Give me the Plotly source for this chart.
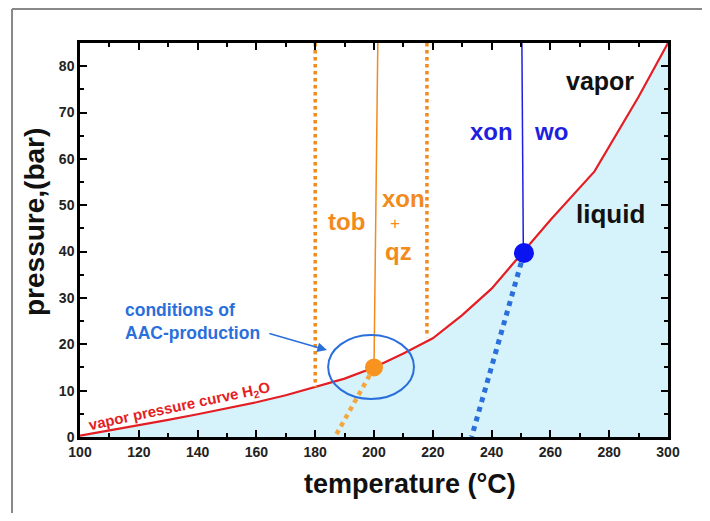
import plotly.graph_objects as go

# vapor pressure curve of H2O
curve_T = [100, 110, 120, 130, 140, 150, 160, 170, 180, 190, 200, 210, 220, 230, 240, 250, 260, 275, 290, 300]
curve_p = [0.3, 1.4, 2.5, 3.7, 4.9, 6.2, 7.5, 9.0, 10.8, 12.6, 15.0, 18.0, 21.3, 26.3, 32.0, 39.3, 46.8, 57.3, 73.4, 85.0]

# orange (tobermorite / xonotlite+quartz) construction lines
tob_bound_T = [180, 218]
tob_bound_pbot = [10.8, 21.5]
orange_line_T = [201.3, 200.0]
orange_line_p = [85, 15.0]
orange_point = (200.0, 15.0)
orange_dot_T = [200.0, 186.7]
orange_dot_p = [15.0, 0.0]

# blue (xonotlite / wollastonite) construction lines
blue_line_T = [250.3, 250.8]
blue_line_p = [85, 39.7]
blue_point = (251.0, 39.7)
blue_dot_T = [251.0, 233.2]
blue_dot_p = [39.7, 0.0]

# ellipse (conditions of AAC production)
ell_T = [184.4, 213.6]
ell_p = [8.2, 22.0]

x_ticks = [100, 120, 140, 160, 180, 200, 220, 240, 260, 280, 300]
y_ticks = [0, 10, 20, 30, 40, 50, 60, 70, 80]

FONT = "Liberation Sans, Arial, sans-serif"
ORANGE = "#f28a1c"
RED = "#e31e24"
BLUE = "#1f1fe0"
MBLUE = "#2a6fdb"

fig = go.Figure()

fig.add_trace(go.Scatter(x=curve_T, y=curve_p, mode="lines", fill="tozeroy",
                         fillcolor="#d6f3fb", line=dict(color=RED, width=2.2),
                         hoverinfo="skip", showlegend=False))

for T, pb in zip(tob_bound_T, tob_bound_pbot):
    fig.add_trace(go.Scatter(x=[T, T], y=[85, pb], mode="lines",
                             line=dict(color=ORANGE, width=3.5, dash="dot"),
                             showlegend=False))

fig.add_trace(go.Scatter(x=orange_dot_T, y=orange_dot_p, mode="lines",
                         line=dict(color="#f4a640", width=4.5, dash="dot"), showlegend=False))
fig.add_trace(go.Scatter(x=orange_line_T, y=orange_line_p, mode="lines",
                         line=dict(color=ORANGE, width=1.5), showlegend=False))
fig.add_trace(go.Scatter(x=blue_dot_T, y=blue_dot_p, mode="lines",
                         line=dict(color=MBLUE, width=5, dash="dot"), showlegend=False))
fig.add_trace(go.Scatter(x=blue_line_T, y=blue_line_p, mode="lines",
                         line=dict(color=BLUE, width=1.5), showlegend=False))
fig.add_trace(go.Scatter(x=[orange_point[0]], y=[orange_point[1]], mode="markers",
                         marker=dict(color="#f7931e", size=18), showlegend=False))
fig.add_trace(go.Scatter(x=[blue_point[0]], y=[blue_point[1]], mode="markers",
                         marker=dict(color="#0a14f0", size=20), showlegend=False))

fig.add_shape(type="circle", xref="x", yref="y", x0=ell_T[0], x1=ell_T[1],
              y0=ell_p[0], y1=ell_p[1], line=dict(color=MBLUE, width=2))

# outer frame (top and left edges visible in the picture)
fig.add_shape(type="line", xref="paper", yref="paper", x0=-0.1156, x1=1.2,
              y0=1.0863, y1=1.0863, line=dict(color="#888888", width=2), layer="above")
fig.add_shape(type="line", xref="paper", yref="paper", x0=-0.1156, x1=-0.1156,
              y0=1.0863, y1=-0.4, line=dict(color="#888888", width=2), layer="above")

def txt(x, y, s, color, size, bold=True, **kw):
    fig.add_annotation(x=x, y=y, xref="x", yref="y", text=("<b>%s</b>" % s) if bold else s,
                       showarrow=False, font=dict(family=FONT, size=size, color=color), **kw)

txt(276.9, 76.9, "vapor", "#111111", 25)
txt(280.6, 48.1, "liquid", "#111111", 26)
txt(240.1, 65.9, "xon", BLUE, 24)
txt(260.2, 65.9, "wo", BLUE, 24)
txt(190.8, 46.6, "tob", ORANGE, 24)
txt(209.9, 51.5, "xon", ORANGE, 24)
txt(207.1, 46.1, "+", ORANGE, 17, bold=False)
txt(208.5, 40.1, "qz", ORANGE, 24)
txt(114.6, 25.0, "conditions of<br>AAC-production", MBLUE, 17.5, xanchor="left", align="left")
txt(134.0, 6.6, "vapor pressure curve H<sub>2</sub>O", RED, 15, textangle=-12)

fig.add_annotation(x=184.0, y=18.75, ax=163.9, ay=22.4, xref="x", yref="y",
                   axref="x", ayref="y", showarrow=True, arrowhead=2, arrowsize=1.2,
                   arrowwidth=1.6, arrowcolor=MBLUE, text="")

fig.add_annotation(x=0.561, y=-0.1193, xref="paper", yref="paper", showarrow=False,
                   xanchor="center", yanchor="middle",
                   text="<b>temperature (°C)</b>", font=dict(family=FONT, size=27, color="#111111"))
fig.add_annotation(x=-0.0765, y=0.5457, xref="paper", yref="paper", showarrow=False,
                   xanchor="center", yanchor="middle",
                   textangle=-90, text="<b>pressure,(bar)</b>",
                   font=dict(family=FONT, size=28, color="#111111"))

axis_common = dict(showline=True, linecolor="black", linewidth=2.5, mirror="allticks",
                   ticks="inside", ticklen=7, tickwidth=2, tickcolor="black",
                   showgrid=False, zeroline=False,
                   tickfont=dict(family=FONT, size=14, color="#222222"))

fig.update_xaxes(range=[100, 300], tickvals=x_ticks, ticktext=["<b>%d</b>" % v for v in x_ticks],
                 minor=dict(dtick=10, ticks="inside", ticklen=4, tickwidth=1.5, tickcolor="black"),
                 **axis_common)
fig.update_yaxes(range=[0, 85], tickvals=y_ticks, ticktext=["<b>%d</b>" % v for v in y_ticks],
                 minor=dict(dtick=5, ticks="inside", ticklen=4, tickwidth=1.5, tickcolor="black"),
                 **axis_common)

fig.update_layout(width=694, height=505, autosize=False,
                  margin=dict(l=72, r=34, t=35, b=76),
                  plot_bgcolor="white", paper_bgcolor="white", showlegend=False)

fig.write_html("out.html")
